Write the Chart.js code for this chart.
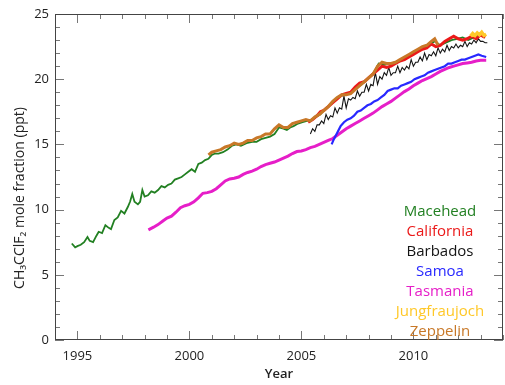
<!DOCTYPE html>
<html>
<head>
<meta charset="utf-8">
<script src="https://cdn.jsdelivr.net/npm/chart.js@4"></script>
<style>
  html, body { margin: 0; padding: 0; background: #fff; }
  #wrap { width: 505px; height: 385px; }
</style>
</head>
<body>
<div id="wrap"><canvas id="ch"></canvas></div>
<script>
// --- data (year, ppt) ---
const maceheadYears = [1994.75, 1994.9, 1995.0, 1995.15, 1995.3, 1995.45, 1995.55, 1995.7, 1995.85, 1995.95, 1996.1, 1996.25, 1996.4, 1996.5, 1996.65, 1996.8, 1996.95, 1997.1, 1997.25, 1997.35, 1997.45, 1997.55, 1997.7, 1997.8, 1997.9, 1998.0, 1998.15, 1998.3, 1998.45, 1998.6, 1998.75, 1998.9, 1999.05, 1999.2, 1999.35, 1999.5, 1999.65, 1999.8, 1999.95, 2000.1, 2000.25, 2000.4, 2000.55, 2000.7, 2000.85, 2001.0, 2001.15, 2001.3, 2001.5, 2001.7, 2001.9, 2002.1, 2002.3, 2002.55, 2002.8, 2003.0, 2003.2, 2003.4, 2003.6, 2003.8, 2004.0, 2004.2, 2004.35, 2004.5, 2004.65, 2004.85, 2005.05, 2005.25, 2005.45, 2005.65, 2005.85, 2006.0, 2006.2, 2006.45, 2006.7, 2006.95, 2007.2, 2007.45, 2007.7, 2007.95, 2008.2, 2008.45, 2008.7, 2008.95, 2009.2, 2009.45, 2009.7, 2009.95, 2010.2, 2010.45, 2010.7, 2010.95, 2011.2, 2011.45, 2011.7, 2011.95, 2012.2, 2012.45, 2012.7, 2012.95, 2013.2];
const maceheadPpt = [7.4, 7.1, 7.2, 7.3, 7.5, 7.9, 7.6, 7.5, 8.0, 8.3, 8.2, 8.8, 8.6, 8.5, 9.2, 9.4, 9.9, 9.7, 10.2, 10.6, 11.2, 10.6, 10.4, 10.6, 11.5, 11.0, 11.1, 11.4, 11.3, 11.5, 11.8, 11.7, 11.9, 12.0, 12.3, 12.4, 12.5, 12.7, 12.9, 13.1, 12.9, 13.5, 13.6, 13.8, 13.9, 14.2, 14.3, 14.3, 14.4, 14.6, 14.9, 15.0, 14.9, 15.1, 15.2, 15.2, 15.4, 15.5, 15.6, 15.8, 16.3, 16.2, 16.1, 16.3, 16.4, 16.6, 16.7, 16.8, 16.9, 17.1, 17.3, 17.6, 17.9, 18.3, 18.7, 18.8, 19.0, 19.3, 19.6, 20.0, 20.4, 21.2, 21.1, 21.2, 21.3, 21.5, 21.7, 21.9, 22.1, 22.4, 22.6, 22.9, 22.6, 22.8, 23.0, 23.1, 23.2, 23.0, 23.2, 23.4, 23.2];

const californiaYears = [2005.3, 2005.5, 2005.7, 2005.85, 2006.0, 2006.2, 2006.4, 2006.6, 2006.8, 2007.0, 2007.2, 2007.4, 2007.6, 2007.8, 2008.0, 2008.2, 2008.4, 2008.6, 2008.8, 2009.0, 2009.2, 2009.4, 2009.6, 2009.8, 2010.0, 2010.2, 2010.4, 2010.6, 2010.8, 2011.0, 2011.2, 2011.4, 2011.6, 2011.8, 2012.0, 2012.2, 2012.4, 2012.6, 2012.8, 2013.0, 2013.2];
const californiaPpt = [16.7, 16.9, 17.2, 17.5, 17.6, 17.9, 18.2, 18.5, 18.8, 18.9, 19.0, 19.4, 19.7, 19.8, 20.1, 20.4, 20.7, 21.0, 20.9, 21.0, 21.2, 21.4, 21.5, 21.7, 21.9, 22.1, 22.3, 22.4, 22.7, 22.5, 22.6, 22.9, 23.1, 23.3, 23.1, 23.0, 23.1, 23.3, 23.1, 23.4, 23.2];

const barbadosYears = [2005.4, 2005.5, 2005.6, 2005.7, 2005.8, 2005.9, 2006.0, 2006.1, 2006.2, 2006.3, 2006.4, 2006.5, 2006.6, 2006.7, 2006.8, 2006.9, 2007.0, 2007.1, 2007.2, 2007.3, 2007.4, 2007.5, 2007.6, 2007.7, 2007.8, 2007.9, 2008.0, 2008.1, 2008.2, 2008.3, 2008.4, 2008.5, 2008.6, 2008.7, 2008.8, 2008.9, 2009.0, 2009.1, 2009.2, 2009.3, 2009.4, 2009.5, 2009.6, 2009.7, 2009.8, 2009.9, 2010.0, 2010.1, 2010.2, 2010.3, 2010.4, 2010.5, 2010.6, 2010.7, 2010.8, 2010.9, 2011.0, 2011.1, 2011.2, 2011.3, 2011.4, 2011.5, 2011.6, 2011.7, 2011.8, 2011.9, 2012.0, 2012.1, 2012.2, 2012.3, 2012.4, 2012.5, 2012.6, 2012.7, 2012.8, 2012.9, 2013.0, 2013.1, 2013.2, 2013.3];
const barbadosPpt = [15.8, 16.2, 16.0, 16.5, 16.5, 16.8, 16.6, 17.3, 16.9, 17.2, 17.1, 17.8, 17.4, 17.8, 17.7, 18.7, 17.8, 18.5, 18.4, 18.6, 18.5, 19.1, 18.7, 19.0, 19.0, 19.6, 19.1, 19.6, 19.5, 20.5, 19.6, 20.2, 20.0, 20.5, 20.3, 20.9, 20.3, 20.5, 20.5, 21.0, 20.5, 20.9, 20.7, 21.0, 20.8, 21.5, 21.0, 21.3, 21.3, 21.7, 21.4, 22.0, 21.5, 21.9, 21.8, 22.1, 21.8, 22.4, 22.0, 22.3, 22.1, 22.6, 22.2, 22.5, 22.4, 22.7, 22.4, 22.6, 22.5, 22.9, 22.5, 22.8, 22.7, 23.0, 22.8, 23.1, 22.9, 22.9, 22.8, 22.8];

const samoaYears = [2006.35, 2006.45, 2006.6, 2006.75, 2006.9, 2007.05, 2007.2, 2007.35, 2007.5, 2007.65, 2007.8, 2007.95, 2008.1, 2008.25, 2008.4, 2008.55, 2008.7, 2008.85, 2009.0, 2009.15, 2009.3, 2009.45, 2009.6, 2009.75, 2009.9, 2010.05, 2010.2, 2010.35, 2010.5, 2010.65, 2010.8, 2010.95, 2011.1, 2011.25, 2011.4, 2011.55, 2011.7, 2011.85, 2012.0, 2012.15, 2012.3, 2012.45, 2012.6, 2012.75, 2012.9, 2013.05, 2013.25];
const samoaPpt = [15.0, 15.4, 15.9, 16.4, 16.7, 16.9, 17.0, 17.2, 17.5, 17.6, 17.8, 18.0, 18.1, 18.3, 18.4, 18.6, 18.8, 19.1, 19.2, 19.3, 19.3, 19.5, 19.6, 19.7, 19.8, 20.0, 20.1, 20.2, 20.3, 20.5, 20.6, 20.7, 20.8, 20.9, 21.0, 21.2, 21.2, 21.3, 21.4, 21.5, 21.5, 21.6, 21.7, 21.8, 21.9, 21.8, 21.7];

const tasmaniaYears = [1998.17, 1998.4, 1998.6, 1998.83, 1999.0, 1999.2, 1999.4, 1999.6, 1999.8, 2000.0, 2000.2, 2000.4, 2000.6, 2000.8, 2001.0, 2001.2, 2001.4, 2001.6, 2001.8, 2002.0, 2002.2, 2002.4, 2002.6, 2002.8, 2003.0, 2003.2, 2003.4, 2003.6, 2003.8, 2004.0, 2004.2, 2004.4, 2004.6, 2004.8, 2005.0, 2005.2, 2005.4, 2005.6, 2005.8, 2006.0, 2006.2, 2006.4, 2006.6, 2006.8, 2007.0, 2007.2, 2007.4, 2007.6, 2007.8, 2008.0, 2008.2, 2008.4, 2008.6, 2008.8, 2009.0, 2009.2, 2009.4, 2009.6, 2009.8, 2010.0, 2010.2, 2010.4, 2010.6, 2010.8, 2011.0, 2011.2, 2011.4, 2011.6, 2011.8, 2012.0, 2012.2, 2012.4, 2012.6, 2012.8, 2013.0, 2013.25];
const tasmaniaPpt = [8.45, 8.65, 8.85, 9.15, 9.35, 9.5, 9.8, 10.15, 10.3, 10.4, 10.6, 10.9, 11.25, 11.3, 11.4, 11.6, 11.9, 12.2, 12.35, 12.4, 12.5, 12.7, 12.85, 12.95, 13.1, 13.3, 13.45, 13.55, 13.65, 13.8, 13.95, 14.1, 14.3, 14.45, 14.5, 14.6, 14.75, 14.85, 15.0, 15.15, 15.3, 15.45, 15.7, 15.95, 16.2, 16.4, 16.6, 16.8, 17.0, 17.2, 17.4, 17.65, 17.9, 18.1, 18.3, 18.55, 18.8, 19.05, 19.25, 19.5, 19.7, 19.9, 20.05, 20.2, 20.4, 20.6, 20.75, 20.9, 21.0, 21.1, 21.2, 21.25, 21.3, 21.4, 21.45, 21.45];

const jungfraujochYears = [2012.55, 2012.65, 2012.75, 2012.85, 2012.95, 2013.05, 2013.15, 2013.25];
const jungfraujochPpt = [23.3, 23.5, 23.35, 23.55, 23.4, 23.6, 23.35, 23.45];

const zeppelinYears = [2000.85, 2001.0, 2001.2, 2001.4, 2001.6, 2001.8, 2002.0, 2002.2, 2002.4, 2002.6, 2002.8, 2003.0, 2003.2, 2003.4, 2003.6, 2003.8, 2004.0, 2004.2, 2004.4, 2004.6, 2004.8, 2005.0, 2005.2, 2005.4, 2005.6, 2005.8, 2006.0, 2006.2, 2006.4, 2006.6, 2006.8, 2007.0, 2007.2, 2007.4, 2007.6, 2007.8, 2008.0, 2008.2, 2008.4, 2008.6, 2008.8, 2009.0, 2009.2, 2009.4, 2009.6, 2009.8, 2010.0, 2010.2, 2010.4, 2010.6, 2010.8, 2010.95, 2011.1];
const zeppelinPpt = [14.2, 14.4, 14.5, 14.6, 14.8, 14.9, 15.1, 15.0, 15.1, 15.3, 15.3, 15.5, 15.6, 15.8, 15.8, 16.2, 16.5, 16.3, 16.3, 16.6, 16.7, 16.8, 16.9, 16.8, 17.1, 17.3, 17.6, 17.9, 18.3, 18.6, 18.8, 18.8, 18.9, 19.2, 19.5, 19.8, 20.1, 20.4, 21.0, 21.3, 21.2, 21.2, 21.3, 21.5, 21.7, 21.9, 22.1, 22.3, 22.5, 22.6, 22.9, 23.1, 22.6];

const xTickYears = [1995, 2000, 2005, 2010];
const yTickValues = [0, 5, 10, 15, 20, 25];

const FONT = "'Open Sans', sans-serif";
const pts = (xs, ys) => xs.map((x, i) => ({ x: x, y: ys[i] }));

function series(label, xs, ys, color, width, order) {
    return {
        label: label,
        data: pts(xs, ys),
        borderColor: color,
        backgroundColor: color,
        borderWidth: width,
        pointRadius: 0,
        tension: 0,
        order: order
    };
}

// legend in the figure's order
const sites = [
    series("Macehead", maceheadYears, maceheadPpt, "rgb(34,128,34)", 1.8, 3),
    series("California", californiaYears, californiaPpt, "rgb(235,25,25)", 3, 2),
    series("Barbados", barbadosYears, barbadosPpt, "rgb(20,20,20)", 1.1, 4),
    series("Samoa", samoaYears, samoaPpt, "rgb(40,40,255)", 2.2, 5),
    series("Tasmania", tasmaniaYears, tasmaniaPpt, "rgb(230,30,200)", 3, 6),
    series("Jungfraujoch", jungfraujochYears, jungfraujochPpt, "rgb(255,200,40)", 3.5, 0),
    series("Zeppelin", zeppelinYears, zeppelinPpt, "rgb(200,120,40)", 3, 1)
];

// inward ticks on all four sides + frame + labels
const framePlugin = {
    id: "frame",
    afterDatasetsDraw(chart) {
        const ctx = chart.ctx;
        const a = chart.chartArea;
        const x = chart.scales.x, y = chart.scales.y;
        ctx.save();
        ctx.strokeStyle = "#777";
        ctx.lineWidth = 1;
        ctx.beginPath();
        for (let yr = 1994; yr <= 2014; yr++) {
            const px = Math.round(x.getPixelForValue(yr)) + 0.5;
            const len = yr % 5 === 0 ? 9 : 5;
            ctx.moveTo(px, a.bottom); ctx.lineTo(px, a.bottom - len);
            ctx.moveTo(px, a.top); ctx.lineTo(px, a.top + len);
        }
        for (let v = 0; v <= 25; v++) {
            const py = Math.round(y.getPixelForValue(v)) + 0.5;
            const len = v % 5 === 0 ? 9 : 5;
            ctx.moveTo(a.left, py); ctx.lineTo(a.left + len, py);
            ctx.moveTo(a.right, py); ctx.lineTo(a.right - len, py);
        }
        ctx.stroke();
        ctx.strokeStyle = "#444";
        ctx.strokeRect(a.left + 0.5, a.top + 0.5, a.right - a.left - 1, a.bottom - a.top - 1);

        // colored site names
        ctx.font = "15px " + FONT;
        ctx.textAlign = "center";
        ctx.textBaseline = "middle";
        sites.forEach((s, i) => {
            ctx.fillStyle = s.borderColor;
            ctx.fillText(s.label, 440, 212 + i * 20);
        });

        // y title
        ctx.fillStyle = "#222";
        ctx.font = "14px " + FONT;
        ctx.translate(20, 198);
        ctx.rotate(-Math.PI / 2);
        ctx.fillText("CH\u2083CClF\u2082 mole fraction (ppt)", 0, 0);
        ctx.restore();
    }
};

new Chart(document.getElementById("ch"), {
    type: "line",
    data: { datasets: sites },
    options: {
        responsive: true,
        maintainAspectRatio: false,
        animation: false,
        layout: { padding: { top: 14, right: 2, left: 0, bottom: 0 } },
        plugins: { legend: { display: false }, tooltip: { enabled: false } },
        scales: {
            x: {
                type: "linear",
                min: 1994,
                max: 2014,
                afterFit: (s) => { s.height = 45; },
                afterBuildTicks: (s) => { s.ticks = xTickYears.map(v => ({ value: v })); },
                grid: { display: false, drawTicks: false },
                border: { display: false },
                ticks: { padding: 8, color: "#222", font: { family: FONT, size: 13 }, callback: v => String(v) },
                title: { display: true, text: "Year", color: "#222", font: { family: FONT, size: 13, weight: "600" }, padding: { top: 0, bottom: 3 } }
            },
            y: {
                min: 0,
                max: 25,
                afterFit: (s) => { s.width = 55; },
                afterBuildTicks: (s) => { s.ticks = yTickValues.map(v => ({ value: v })); },
                grid: { display: false, drawTicks: false },
                border: { display: false },
                ticks: { padding: 6, color: "#222", font: { family: FONT, size: 13 } }
            }
        }
    },
    plugins: [framePlugin]
});
</script>
</body>
</html>
